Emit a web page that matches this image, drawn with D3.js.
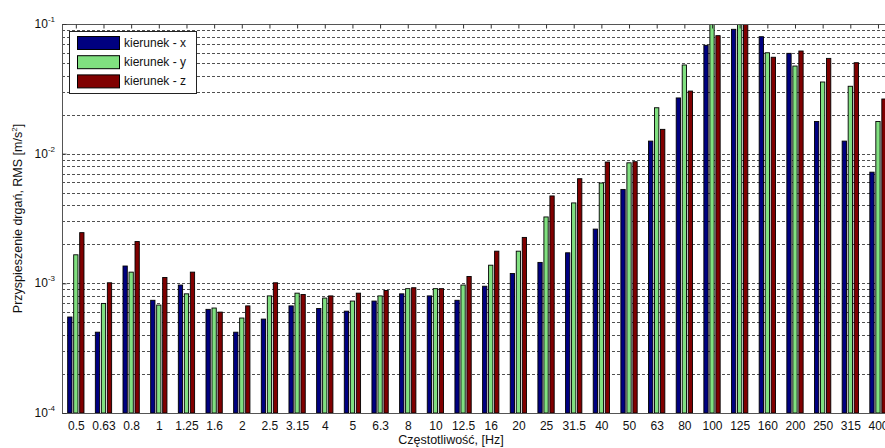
<!DOCTYPE html>
<html>
<head>
<meta charset="utf-8">
<script src="https://cdn.jsdelivr.net/npm/d3@7"></script>
<style>
  body { margin: 0; background: #fff; }
  svg { display: block; font-family: "Liberation Sans", Arial, sans-serif; }
</style>
</head>
<body>
<div id="chart"></div>
<script>
// tercje, czestotliwosci srodkowe
var freqs = ["0.5", "0.63", "0.8", "1", "1.25", "1.6", "2", "2.5", "3.15", "4", "5", "6.3", "8", "10", "12.5",
             "16", "20", "25", "31.5", "40", "50", "63", "80", "100", "125", "160", "200", "250", "315", "400"];

// wartosci RMS [m/s2]
var kierX = [5.5e-4, 4.2e-4, 1.36e-3, 7.4e-4, 9.7e-4, 6.3e-4, 4.2e-4, 5.3e-4, 6.7e-4, 6.4e-4, 6.1e-4, 7.3e-4, 8.3e-4, 8.0e-4, 7.4e-4,
             9.5e-4, 1.19e-3, 1.45e-3, 1.72e-3, 2.62e-3, 5.3e-3, 1.25e-2, 2.69e-2, 6.85e-2, 9.1e-2, 7.98e-2, 5.94e-2, 1.77e-2, 1.25e-2, 7.2e-3];
var kierY = [1.66e-3, 7.0e-4, 1.22e-3, 6.8e-4, 8.3e-4, 6.45e-4, 5.4e-4, 8.0e-4, 8.4e-4, 7.7e-4, 7.3e-4, 8.0e-4, 9.1e-4, 9.1e-4, 9.7e-4,
             1.38e-3, 1.77e-3, 3.25e-3, 4.17e-3, 5.94e-3, 8.5e-3, 2.26e-2, 4.83e-2, 0.13, 0.13, 6.0e-2, 4.74e-2, 3.57e-2, 3.31e-2, 1.77e-2];
var kierZ = [2.46e-3, 1.01e-3, 2.1e-3, 1.11e-3, 1.22e-3, 6.0e-4, 6.7e-4, 1.01e-3, 8.2e-4, 8.0e-4, 8.4e-4, 8.8e-4, 9.25e-4, 9.1e-4, 1.13e-3,
             1.77e-3, 2.26e-3, 4.72e-3, 6.41e-3, 8.62e-3, 8.67e-3, 1.54e-2, 3.04e-2, 8.13e-2, 0.13, 5.54e-2, 6.19e-2, 5.43e-2, 5.03e-2, 2.64e-2];

var seriesNames = ["kierunek - x", "kierunek - y", "kierunek - z"];
var seriesColors = ["#000080", "#80e080", "#800000"];
var yTickExp = [-4, -3, -2, -1];

var w = 885, h = 448;
var pLeft = 62, pTop = 24, pBottom = 413;
var step = 27.66;                         // odstep miedzy grupami
var pRight = pLeft + freqs.length * step; // wychodzi poza obrazek, jak w oryginale

var svg = d3.select("#chart").append("svg")
  .attr("width", w)
  .attr("height", h);

var x = d3.scaleLinear().domain([0.5, freqs.length + 0.5]).range([pLeft, pRight]);
var y = d3.scaleLog().domain([1e-4, 1e-1]).range([pBottom, pTop]);

svg.append("defs").append("clipPath").attr("id", "clip")
  .append("rect").attr("x", pLeft).attr("y", pTop).attr("width", pRight - pLeft).attr("height", pBottom - pTop);

// siatka - linie przerywane na kazdej podzialce logarytmicznej
var gridVals = [];
for (var e = -4; e < -1; e++) {
  for (var m = 1; m < 10; m++) {
    gridVals.push(m * Math.pow(10, e));
  }
}
svg.append("g").selectAll("line")
  .data(gridVals)
  .enter().append("line")
  .attr("x1", pLeft).attr("x2", pRight)
  .attr("y1", function(d) { return Math.round(y(d)) + 0.5; })
  .attr("y2", function(d) { return Math.round(y(d)) + 0.5; })
  .style("stroke", "#333")
  .style("stroke-width", 1)
  .style("stroke-dasharray", "3,2")
  .style("opacity", 0.85);

// slupki
var data = [kierX, kierY, kierZ];
var offsets = [-0.217, 0, 0.217];
var bw = 0.155;
var bars = svg.append("g").attr("clip-path", "url(#clip)");
data.forEach(function(ser, s) {
  bars.selectAll(".bar" + s)
    .data(ser)
    .enter().append("rect")
    .attr("class", "bar" + s)
    .attr("x", function(d, i) { return x(i + 1 + offsets[s] - bw / 2); })
    .attr("width", x(bw) - x(0))
    .attr("y", function(d) { return y(d); })
    .attr("height", function(d) { return pBottom - y(d); })
    .style("fill", seriesColors[s])
    .style("stroke", "#000")
    .style("stroke-width", 0.9);
});

// ramka osi
var axisCol = "#555";
svg.append("line").attr("x1", pLeft + 0.5).attr("x2", pLeft + 0.5).attr("y1", pTop).attr("y2", pBottom)
  .style("stroke", axisCol);
svg.append("line").attr("x1", pLeft).attr("x2", pRight).attr("y1", pTop + 0.5).attr("y2", pTop + 0.5)
  .style("stroke", axisCol);
svg.append("line").attr("x1", pLeft).attr("x2", pRight).attr("y1", pBottom + 0.5).attr("y2", pBottom + 0.5)
  .style("stroke", axisCol);

// os x (etykiety na dole, kreski na gorze)
var xAxis = d3.axisBottom(x)
  .tickValues(d3.range(1, freqs.length + 1))
  .tickFormat(function(d) { return freqs[d - 1]; })
  .tickSize(0)
  .tickPadding(8);
var gx = svg.append("g").attr("transform", "translate(0," + pBottom + ")").call(xAxis);
gx.select(".domain").remove();
gx.selectAll("text").style("font-size", "12px").style("fill", "#111")
  .style("font-family", "'Liberation Sans', Arial, sans-serif");

var topTicks = d3.axisBottom(x).tickValues(d3.range(1, freqs.length + 1)).tickSize(4).tickFormat("");
var gt = svg.append("g").attr("transform", "translate(0," + (pTop + 0.5) + ")").call(topTicks);
gt.select(".domain").remove();
gt.selectAll("line").style("stroke", "#333");

// os y - etykiety 10^n
var yl = svg.append("g");
yTickExp.forEach(function(ex) {
  var t = yl.append("text")
    .attr("x", 55)
    .attr("y", y(Math.pow(10, ex)) + 4)
    .attr("text-anchor", "end")
    .style("font-size", "12px")
    .style("fill", "#111");
  t.append("tspan").text("10");
  t.append("tspan").attr("dy", -6).style("font-size", "8px").text(ex);
});
var yTicks = d3.axisRight(y).tickValues(yTickExp.map(function(ex) { return Math.pow(10, ex); })).tickSize(4).tickFormat("");
var gy = svg.append("g").attr("transform", "translate(" + (pLeft + 0.5) + ",0)").call(yTicks);
gy.select(".domain").remove();
gy.selectAll("line").style("stroke", "#333");

// opisy osi
var yTitle = svg.append("text")
  .attr("transform", "translate(22," + (pTop + pBottom) / 2 + ") rotate(-90)")
  .attr("text-anchor", "middle")
  .style("font-size", "12.5px")
  .style("fill", "#111");
yTitle.append("tspan").text("Przyspieszenie drgań, RMS [m/s");
yTitle.append("tspan").attr("dy", -5).style("font-size", "8px").text("2");
yTitle.append("tspan").attr("dy", 5).text("]");

svg.append("text")
  .attr("x", 451).attr("y", 444)
  .attr("text-anchor", "middle")
  .style("font-size", "12.5px")
  .style("fill", "#111")
  .text("Częstotliwość, [Hz]");

// legenda
var lg = svg.append("g");
lg.append("rect").attr("x", 69.5).attr("y", 31.5).attr("width", 127).attr("height", 62)
  .style("fill", "#fff").style("stroke", "#222");
seriesNames.forEach(function(n, i) {
  var yy = 36 + i * 19.2;
  lg.append("rect").attr("x", 77.5).attr("y", yy + 0.5).attr("width", 42).attr("height", 13)
    .style("fill", seriesColors[i]).style("stroke", "#000");
  lg.append("text").attr("x", 124).attr("y", yy + 11)
    .style("font-size", "12px").style("fill", "#111").text(n);
});
</script>
</body>
</html>
